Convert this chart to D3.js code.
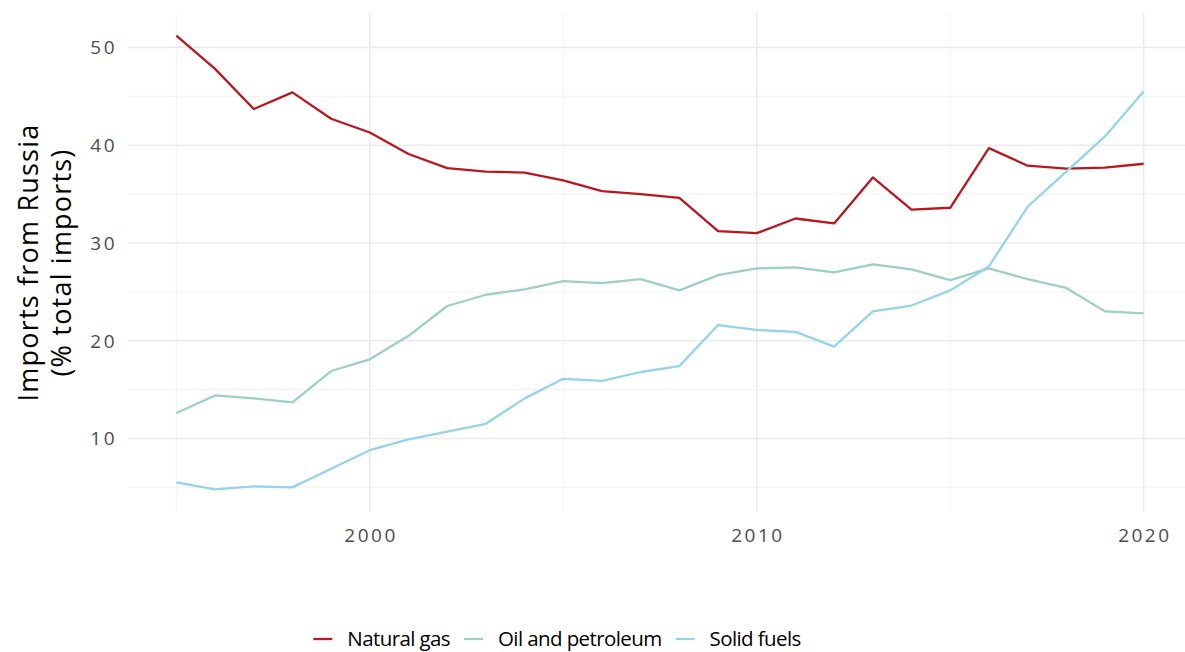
<!DOCTYPE html>
<html>
<head>
<meta charset="utf-8">
<script src="https://cdn.jsdelivr.net/npm/d3@7"></script>
<style>
  body { margin: 0; background: #fff; }
  svg { display: block; font-family: "Open Sans", "DejaVu Sans", sans-serif; }
  .grid-major line { stroke: #ebebeb; stroke-width: 1.6; }
  .grid-minor line { stroke: #f2f2f2; stroke-width: 0.9; }
  .tick-label { fill: #4d4d4d; font-size: 19px; letter-spacing: 2.5px; }
</style>
</head>
<body>
<svg width="1185" height="652"></svg>
<script>
// years on the x axis
var years = d3.range(1995, 2021);

// share of imports from Russia, % of total imports
var naturalGas = [51.2, 47.8, 43.7, 45.4, 42.7, 41.3, 39.1, 37.65, 37.3, 37.2,
                  36.4, 35.3, 35.0, 34.6, 31.2, 31.0, 32.5, 32.0, 36.7, 33.4,
                  33.6, 39.7, 37.9, 37.6, 37.7, 38.1];
var oilPetroleum = [12.6, 14.4, 14.1, 13.7, 16.9, 18.1, 20.5, 23.55, 24.7, 25.25,
                    26.1, 25.9, 26.3, 25.15, 26.7, 27.4, 27.5, 27.0, 27.8, 27.3,
                    26.2, 27.4, 26.3, 25.4, 23.0, 22.8];
var solidFuels = [5.5, 4.8, 5.1, 5.0, 6.9, 8.8, 9.9, 10.7, 11.5, 14.1,
                  16.1, 15.9, 16.8, 17.4, 21.6, 21.1, 20.9, 19.4, 23.0, 23.6,
                  25.15, 27.6, 33.7, 37.3, 40.9, 45.5];

var seriesNames = ["Natural gas", "Oil and petroleum", "Solid fuels"];
var seriesColors = ["#b8171f", "#9ccfc6", "#94d3ea"];
var xTicks = [2000, 2010, 2020];
var yTicks = [10, 20, 30, 40, 50];

var svg = d3.select("svg"),
    width = +svg.attr("width"),
    height = +svg.attr("height");

var panel = { left: 128, right: 1192, top: 13, bottom: 512 };

// ggplot-style 5% padding around the data
var allVals = naturalGas.concat(oilPetroleum, solidFuels);
var yMin = d3.min(allVals), yMax = d3.max(allVals), yPad = (yMax - yMin) * 0.05;
var xPad = (d3.max(years) - d3.min(years)) * 0.05;

var x = d3.scaleLinear()
    .domain([d3.min(years) - xPad, d3.max(years) + xPad])
    .range([panel.left, panel.right]);
var y = d3.scaleLinear()
    .domain([yMin - yPad, yMax + yPad])
    .range([panel.bottom, panel.top]);

svg.append("defs").append("clipPath").attr("id", "panel-clip")
  .append("rect")
    .attr("x", panel.left).attr("y", panel.top)
    .attr("width", panel.right - panel.left).attr("height", panel.bottom - panel.top);

var g = svg.append("g").attr("clip-path", "url(#panel-clip)");

// minor grid lines sit halfway between the major ones
var xMinor = [1995, 2005, 2015];
var yMinor = [5, 15, 25, 35, 45];

g.append("g").attr("class", "grid-minor")
  .selectAll("line").data(yMinor).enter().append("line")
    .attr("x1", panel.left).attr("x2", panel.right)
    .attr("y1", function(d) { return y(d); }).attr("y2", function(d) { return y(d); });
g.append("g").attr("class", "grid-minor")
  .selectAll("line").data(xMinor).enter().append("line")
    .attr("y1", panel.top).attr("y2", panel.bottom)
    .attr("x1", function(d) { return x(d); }).attr("x2", function(d) { return x(d); });

g.append("g").attr("class", "grid-major")
  .selectAll("line").data(yTicks).enter().append("line")
    .attr("x1", panel.left).attr("x2", panel.right)
    .attr("y1", function(d) { return y(d); }).attr("y2", function(d) { return y(d); });
g.append("g").attr("class", "grid-major")
  .selectAll("line").data(xTicks).enter().append("line")
    .attr("y1", panel.top).attr("y2", panel.bottom)
    .attr("x1", function(d) { return x(d); }).attr("x2", function(d) { return x(d); });

// the three series
var seriesData = [naturalGas, oilPetroleum, solidFuels];
var line = d3.line()
    .x(function(d, i) { return x(years[i]); })
    .y(function(d) { return y(d); });

g.selectAll(".series")
  .data(seriesData)
  .enter().append("path")
    .attr("class", "series")
    .attr("fill", "none")
    .attr("stroke", function(d, i) { return seriesColors[i]; })
    .attr("stroke-width", 2.3)
    .attr("stroke-linejoin", "round")
    .attr("d", line);

// axis labels (letter-spacing adds a trailing gap, nudge to compensate)
svg.append("g").selectAll("text").data(yTicks).enter().append("text")
    .attr("class", "tick-label")
    .attr("x", 117)
    .attr("y", function(d) { return y(d); })
    .attr("dy", "0.36em")
    .attr("text-anchor", "end")
    .text(function(d) { return d; });

svg.append("g").selectAll("text").data(xTicks).enter().append("text")
    .attr("class", "tick-label")
    .attr("x", function(d) { return x(d) + 1.25; })
    .attr("y", 542)
    .attr("text-anchor", "middle")
    .text(function(d) { return d; });

// y axis title, two lines
var yTitle = svg.append("text")
    .attr("transform", "translate(0," + ((panel.top + panel.bottom) / 2) + ") rotate(-90)")
    .attr("text-anchor", "middle")
    .style("font-size", "27px")
    .style("letter-spacing", "1.2px")
    .style("fill", "#000");
yTitle.append("tspan").attr("x", 0).attr("y", 38).text("Imports from Russia");
yTitle.append("tspan").attr("x", 0).attr("y", 71).text("(% total imports)");

// legend, laid out from measured text widths and centred like the reference
var keyLen = 19, keyGap = 15, itemGap = 14, legendCenter = 557;
var legend = svg.append("g");
var items = legend.selectAll("g")
  .data(seriesNames).enter().append("g");
items.append("line")
    .attr("x1", 0).attr("x2", keyLen)
    .attr("stroke", function(d, i) { return seriesColors[i]; })
    .attr("stroke-width", 2.3);
items.append("text")
    .attr("x", keyLen + keyGap)
    .attr("dy", "0.36em")
    .style("font-size", "20.5px")
    .style("letter-spacing", "-0.6px")
    .style("fill", "#000")
    .text(function(d) { return d; });

var offsets = [], cursor = 0;
items.each(function() {
  offsets.push(cursor);
  var w = d3.select(this).select("text").node().getComputedTextLength();
  cursor += keyLen + keyGap + w + itemGap;
});
var total = cursor - itemGap;
items.attr("transform", function(d, i) {
  return "translate(" + (legendCenter - total / 2 + offsets[i]) + ",639)";
});
</script>
</body>
</html>
